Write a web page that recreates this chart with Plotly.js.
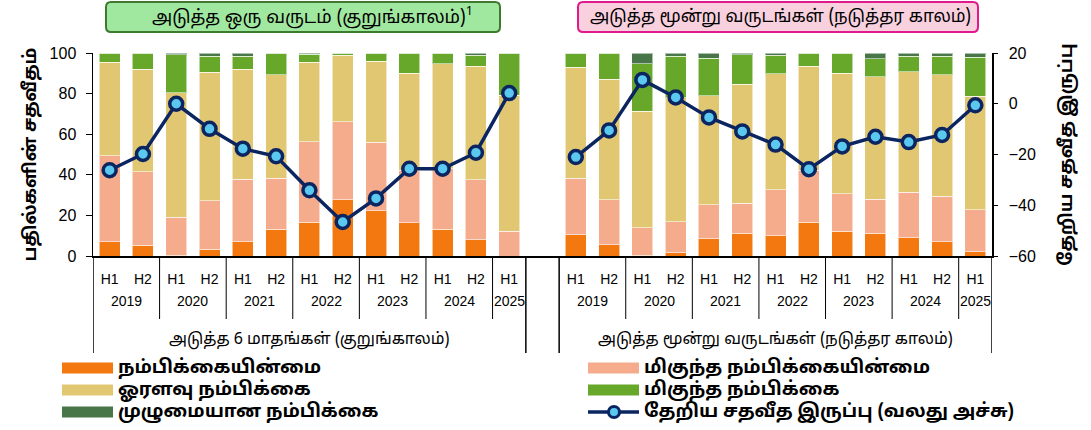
<!DOCTYPE html>
<html><head><meta charset="utf-8">
<script src="https://cdn.plot.ly/plotly-3.0.1.min.js"></script>
<style>html,body{margin:0;padding:0;background:#fff}#chart{width:1091px;height:430px}</style>
</head><body><div id="chart"></div>
<script>
// ---------- data ----------
const halves = ['H1','H2','H1','H2','H1','H2','H1','H2','H1','H2','H1','H2','H1'];
const years  = ['2019','2019','2020','2020','2021','2021','2022','2022','2023','2023','2024','2024','2025'];

const panelTitles = ['அடுத்த ஒரு வருடம் (குறுங்காலம்)<sup>1</sup>', 'அடுத்த மூன்று வருடங்கள் (நடுத்தர காலம்)'];
const groupLabels = ['அடுத்த 6 மாதங்கள் (குறுங்காலம்)', 'அடுத்த மூன்று வருடங்கள் (நடுத்தர காலம்)'];

const seriesNames = ['நம்பிக்கையின்மை','மிகுந்த நம்பிக்கையின்மை','ஓரளவு நம்பிக்கை','மிகுந்த நம்பிக்கை','முழுமையான நம்பிக்கை'];
const lineName = 'தேறிய சதவீத இருப்பு (வலது அச்சு)';

// short term (next 6 months / one year)
const shortNoConf     = [7.0, 5.3, 0.3, 3.4, 6.9, 13.3, 16.7, 27.6, 22.2, 16.3, 13.3, 7.9, 0.0];
const shortVeryNo     = [42.4, 36.1, 18.9, 23.9, 31.0, 25.1, 39.6, 38.6, 33.8, 25.9, 29.7, 29.7, 12.3];
const shortSomewhat   = [46.1, 50.7, 61.3, 63.2, 54.2, 50.8, 39.1, 32.8, 39.9, 47.8, 51.6, 55.8, 66.8];
const shortVeryConf   = [4.5, 7.9, 18.7, 7.9, 6.4, 10.8, 3.9, 1.0, 4.1, 10.0, 5.4, 5.6, 20.9];
const shortFullConf   = [0.0, 0.0, 0.8, 1.6, 1.5, 0.0, 0.7, 0.0, 0.0, 0.0, 0.0, 1.0, 0.0];
const shortNet        = [-26.2, -19.8, 0.0, -9.9, -17.7, -20.7, -34.1, -46.6, -37.3, -25.6, -25.6, -19.3, 4.2];

// medium term (next three years)
const medNoConf       = [10.5, 5.6, 0.3, 1.5, 8.4, 11.3, 10.0, 16.7, 12.2, 11.3, 8.9, 6.9, 2.0];
const medVeryNo       = [27.9, 22.0, 13.7, 15.4, 16.9, 14.8, 22.7, 25.5, 18.5, 16.6, 22.6, 22.5, 20.7];
const medSomewhat     = [54.5, 59.4, 57.3, 61.1, 53.7, 58.6, 57.0, 51.2, 59.4, 60.3, 59.3, 59.9, 56.0];
const medVeryConf     = [7.1, 13.0, 23.4, 20.4, 18.5, 14.5, 9.3, 6.6, 9.9, 9.0, 7.6, 9.1, 19.2];
const medFullConf     = [0.0, 0.0, 5.3, 1.6, 2.5, 0.8, 1.0, 0.0, 0.0, 2.8, 1.6, 1.6, 2.1];
const medNet          = [-21.0, -10.5, 9.4, 2.5, -5.4, -10.9, -16.1, -25.8, -16.8, -13.0, -15.1, -12.3, -0.6];

const colors = ['#F47810', '#F4AC8C', '#E2C773', '#67A72A', '#487648'];
const navy = '#0B2560', lightBlue = '#5BC8F0';

// ---------- build ----------
const n = halves.length;
const shortCats = [], medCats = [];
for (let i = 0; i < n; i++) shortCats.push('S ' + years[i] + ' ' + halves[i]);
for (let i = 0; i < n; i++) medCats.push('M ' + years[i] + ' ' + halves[i]);
const cats = shortCats.concat(['gap'], medCats);
const join = (a, b) => a.concat([null], b);

const shortSets = [shortNoConf, shortVeryNo, shortSomewhat, shortVeryConf, shortFullConf];
const medSets   = [medNoConf, medVeryNo, medSomewhat, medVeryConf, medFullConf];

const tamil = 'Noto Sans Tamil, Lohit Tamil, Latha, Noto Sans, sans-serif';
const narrow = 'Liberation Sans Narrow, Arial Narrow, Liberation Sans, Arial, sans-serif';
const sans = 'Liberation Sans, Arial, sans-serif';

const traces = seriesNames.map((nm, k) => ({
  type: 'bar', name: nm, x: cats, y: join(shortSets[k], medSets[k]),
  marker: {color: colors[k], line: {color: 'rgba(255,255,255,0.55)', width: 1}},
  hoverinfo: 'skip', showlegend: false
}));
traces.push({
  type: 'scatter', mode: 'lines+markers', name: lineName, x: cats, y: join(shortNet, medNet),
  yaxis: 'y2', connectgaps: false,
  line: {color: navy, width: 3.5},
  marker: {size: 13, color: lightBlue, line: {color: navy, width: 3.5}},
  hoverinfo: 'skip', showlegend: false
});

// geometry helpers (plot area: x 93..992 px, y 53..256 px)
const PX = px => (px - 93) / 899;
const PY = py => (256 - py) / 203;

// shapes: dividers
const shapes = [];
const groupBounds = [-0.5, n - 0.5, n + 0.5, 2 * n + 0.5];
groupBounds.forEach(b => shapes.push({type: 'line', xref: 'x', yref: 'paper', x0: b, x1: b, y0: 0, y1: PY(353), line: {color: '#000', width: 1.5}}));
const annotations = [];
[0, n + 1].forEach((off, p) => {
  let start = 0;
  for (let i = 1; i <= n; i++) {
    if (i === n || years[i] !== years[start]) {
      annotations.push({xref: 'x', yref: 'paper', x: off + (start + i - 1) / 2, y: PY(301), text: years[start], showarrow: false,
        font: {family: narrow, size: 14, color: '#000'}, xanchor: 'center', yanchor: 'middle'});
      if (i < n) shapes.push({type: 'line', xref: 'x', yref: 'paper', x0: off + i - 0.5, x1: off + i - 0.5, y0: 0, y1: PY(319), line: {color: '#000', width: 1}});
      start = i;
    }
  }
  annotations.push({xref: 'x', yref: 'paper', x: off + (n - 1) / 2, y: PY(340), text: groupLabels[p], showarrow: false,
    font: {family: tamil, size: 16, color: '#000'}, xanchor: 'center', yanchor: 'middle'});
});

// title boxes (rounded)
function rrPath(w, h, r) {
  const x = w / 2, y = h / 2;
  return `M${-x + r},${-y} L${x - r},${-y} Q${x},${-y} ${x},${-y + r} L${x},${y - r} Q${x},${y} ${x - r},${y} L${-x + r},${y} Q${-x},${y} ${-x},${y - r} L${-x},${-y + r} Q${-x},${-y} ${-x + r},${-y} Z`;
}
const boxes = [
  {cx: 303, w: 394, tx: 312, size: 18, fill: '#A0E8A0', border: '#3D7A2E'},
  {cx: 778, w: 400, tx: 780, size: 17.2, fill: '#F8D0DE', border: '#E0198C'}
];
boxes.forEach((b, p) => {
  shapes.push({type: 'path', xref: 'paper', yref: 'paper', xsizemode: 'pixel', ysizemode: 'pixel',
    xanchor: PX(b.cx), yanchor: PY(17), path: rrPath(b.w, 30, 5), fillcolor: b.fill, line: {color: b.border, width: 2}, layer: 'above'});
  annotations.push({xref: 'paper', yref: 'paper', x: PX(b.tx), y: PY(17), text: panelTitles[p], showarrow: false,
    font: {family: tamil, size: b.size, color: '#000'}, xanchor: 'center', yanchor: 'middle'});
});

// legend (two columns, drawn from the series names and colours)
const legendRows = [368, 390, 412];
const legendCols = [62, 588];
const legendItems = [0, 2, 4, 1, 3, 5]; // column-major order: left col then right col
legendItems.forEach((k, j) => {
  const col = Math.floor(j / 3), row = j % 3;
  const x0 = legendCols[col], yc = legendRows[row];
  if (k < 5) {
    shapes.push({type: 'rect', xref: 'paper', yref: 'paper', x0: PX(x0), x1: PX(x0 + 51), y0: PY(yc - 5.5), y1: PY(yc + 5.5),
      fillcolor: colors[k], line: {width: 0}});
  } else {
    shapes.push({type: 'line', xref: 'paper', yref: 'paper', x0: PX(x0), x1: PX(x0 + 51), y0: PY(yc), y1: PY(yc), line: {color: navy, width: 3.5}});
    shapes.push({type: 'circle', xref: 'paper', yref: 'paper', xsizemode: 'pixel', ysizemode: 'pixel', xanchor: PX(x0 + 26), yanchor: PY(yc),
      x0: -5.5, x1: 5.5, y0: -5.5, y1: 5.5, fillcolor: lightBlue, line: {color: navy, width: 3}});
  }
  annotations.push({xref: 'paper', yref: 'paper', x: PX(x0 + 54), y: PY(yc), text: k < 5 ? seriesNames[k] : lineName, showarrow: false,
    xanchor: 'left', yanchor: 'middle', font: {family: tamil, size: 18.5, color: '#000', weight: 'bold'}});
});

const layout = {
  width: 1091, height: 430,
  margin: {l: 93, r: 99, t: 53, b: 174},
  paper_bgcolor: '#fff', plot_bgcolor: '#fff',
  barmode: 'stack', bargap: 0.37,
  showlegend: false,
  xaxis: {type: 'category', categoryorder: 'array', categoryarray: cats, range: [-0.5, 2 * n + 0.5],
    tickvals: shortCats.concat(medCats), ticktext: halves.concat(halves),
    ticks: '', showline: true, linecolor: '#000', linewidth: 1.5, showgrid: false, zeroline: false,
    tickfont: {family: narrow, size: 14, color: '#000'}, ticklabelstandoff: 10, tickangle: 0, automargin: false},
  yaxis: {range: [0, 100], dtick: 20, ticks: 'outside', ticklen: 6, tickcolor: '#000', showline: true, linecolor: '#000', linewidth: 1.5,
    showgrid: false, zeroline: false, tickfont: {family: sans, size: 16, color: '#000'}, automargin: false, ticklabelstandoff: 6,
    title: {text: 'பதில்களின் சதவீதம்', font: {family: tamil, size: 18, color: '#000', weight: 'bold'}, standoff: 8}},
  yaxis2: {overlaying: 'y', side: 'right', range: [-60, 20], dtick: 20, ticks: 'outside', ticklen: 4, tickcolor: '#000', showline: true,
    linecolor: '#000', linewidth: 1.5, showgrid: false, zeroline: false, automargin: false, ticklabelstandoff: 8,
    tickfont: {family: sans, size: 16, color: '#000'},
    title: {text: 'தேறிய சதவீத இருப்பு', font: {family: tamil, size: 18, color: '#000', weight: 'bold'}, standoff: 24}},
  shapes: shapes,
  annotations: annotations
};

Plotly.newPlot('chart', traces, layout, {displayModeBar: false, staticPlot: true});
</script></body></html>
